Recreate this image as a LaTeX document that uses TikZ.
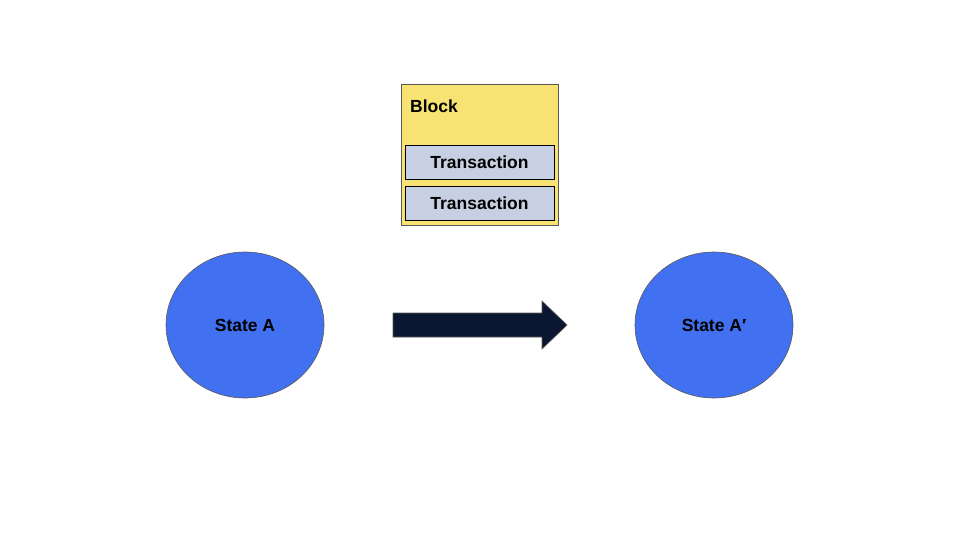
\documentclass[tikz,border=0pt]{standalone}
\usepackage{fontspec}
\setmainfont{Liberation Sans}
\usetikzlibrary{shapes.geometric}
\definecolor{blockfill}{HTML}{F7E273}
\definecolor{txfill}{HTML}{C6D0E2}
\definecolor{statefill}{HTML}{4170F0}
\definecolor{arrowfill}{HTML}{0B1730}
\definecolor{edge}{HTML}{595959}
\begin{document}
\begin{tikzpicture}[x=1pt,y=-1pt,
  lbl/.style={font=\fontsize{17.5}{21}\selectfont\bfseries, text=black},
  blockbox/.style={draw=edge, line width=0.8pt, fill=blockfill},
  txbox/.style={draw=black, line width=0.8pt, fill=txfill, lbl},
  statenode/.style={ellipse, draw=edge, line width=0.6pt, fill=statefill, minimum width=158pt, minimum height=146pt, lbl, inner sep=0pt}
]
\useasboundingbox (0,0) rectangle (960,540);
\fill[white] (0,0) rectangle (960,540);
% block
\node[blockbox, minimum width=157pt, minimum height=141pt, inner sep=0pt] (block) at (479.5,154.5) {};
\node[lbl, anchor=west, inner sep=0pt] (blocklbl) at (410,106) {Block};
\node[txbox, minimum width=149pt, minimum height=34pt, inner sep=0pt] (tx1) at (479.5,162) {\raisebox{-1pt}{Transaction}};
\node[txbox, minimum width=149pt, minimum height=34pt, inner sep=0pt] (tx2) at (479.5,203) {\raisebox{-1pt}{Transaction}};
% states
\node[statenode] (sa) at (245,325) {\raisebox{-1pt}{State A}};
\node[statenode] (sb) at (714,325) {\raisebox{-1pt}{State A′}};
% arrow
\draw[draw=edge, line width=0.6pt, fill=arrowfill]
  (393,313) -- (542,313) -- (542,301) -- (567,325) -- (542,349) -- (542,337) -- (393,337) -- cycle;
\end{tikzpicture}
\end{document}
